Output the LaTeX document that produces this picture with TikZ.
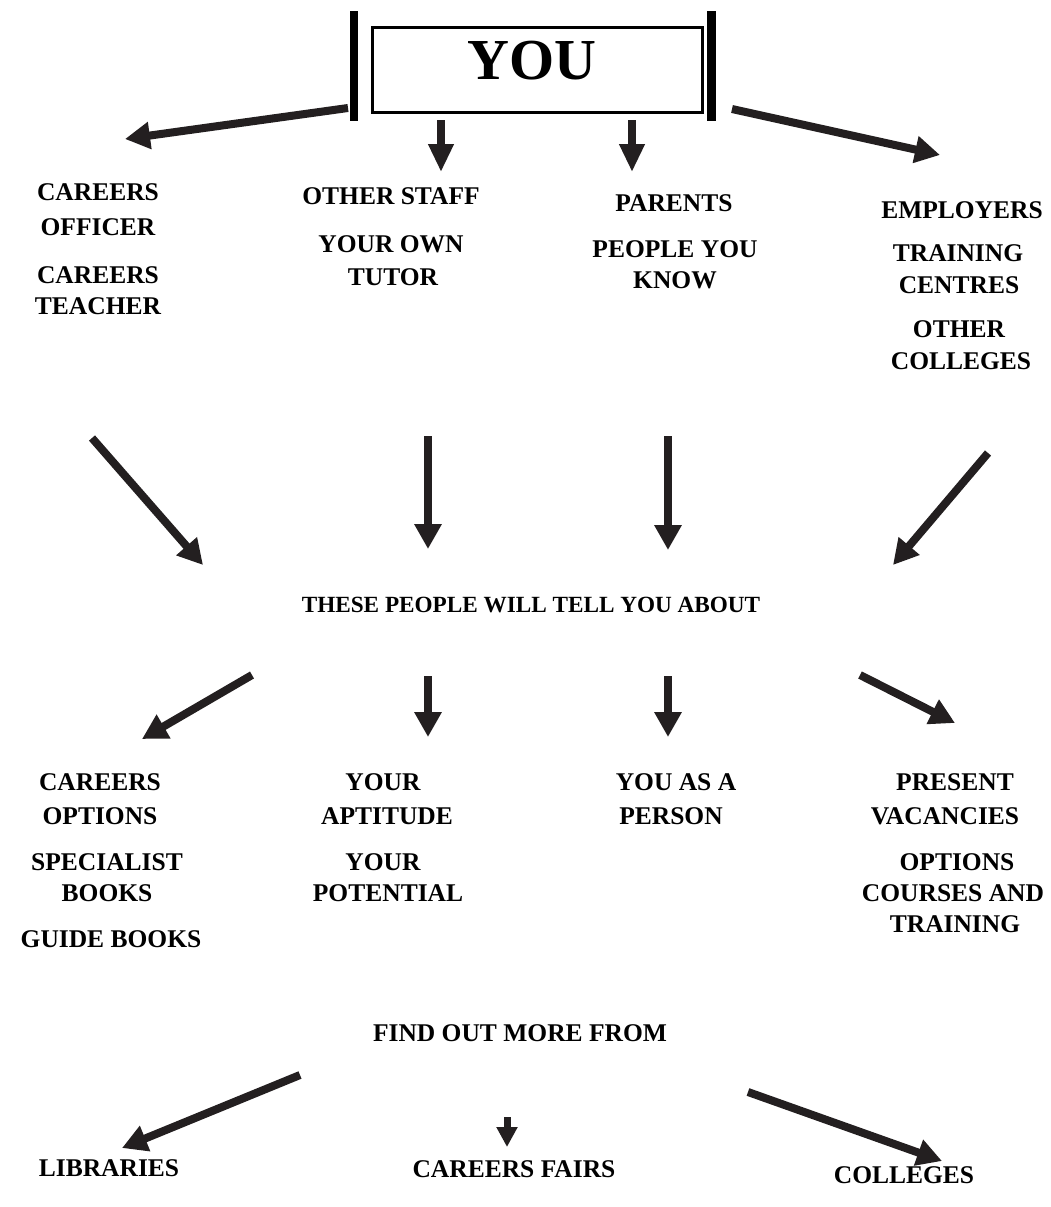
\documentclass[tikz,border=0pt]{standalone}
\usepackage{fontspec}
\setmainfont{Liberation Serif}
\usetikzlibrary{arrows.meta}
\definecolor{ink}{RGB}{35,31,32}
\begin{document}
\begin{tikzpicture}[x=1pt,y=-1pt,
  lbl/.style={anchor=base,inner sep=0pt,font=\fontsize{25.5}{28}\selectfont\bfseries},
  bigarrow/.style={draw=ink,line width=8pt,-{Triangle[width=26pt,length=25pt]}},
  smallarrow/.style={draw=ink,line width=8pt,-{Triangle[width=24pt,length=28pt]}},
  bar/.style={fill=black,draw=none}]
\useasboundingbox (0,0) rectangle (1050,1207);
% top box
\node[draw=black,line width=3pt,minimum width=330pt,minimum height=84pt,inner sep=0pt] (you) at (537,70) {};
\node[anchor=base,inner sep=0pt,font=\fontsize{58}{60}\selectfont\bfseries] (youtxt) at (532,79) {YOU};
\fill[bar] (350,11) rectangle (358,121);
\fill[bar] (707,11) rectangle (716,121);
% coordinates for arrows
\coordinate (a1s) at (348,108); \coordinate (a1e) at (125,139);
\coordinate (a2s) at (441,120); \coordinate (a2e) at (441,172);
\coordinate (a3s) at (632,120); \coordinate (a3e) at (632,172);
\coordinate (a4s) at (732,109); \coordinate (a4e) at (940,155);
\draw[bigarrow] (a1s) -- (a1e);
\draw[smallarrow] (a2s) -- (a2e);
\draw[smallarrow] (a3s) -- (a3e);
\draw[bigarrow] (a4s) -- (a4e);
% top labels
\node[lbl] (t1a) at (98,200) {CAREERS};
\node[lbl] (t1b) at (98,235) {OFFICER};
\node[lbl] (t1c) at (98,283) {CAREERS};
\node[lbl] (t1d) at (98,314) {TEACHER};
\node[lbl] (t2a) at (391,204) {OTHER STAFF};
\node[lbl] (t2b) at (391,252) {YOUR OWN};
\node[lbl] (t2c) at (393,285) {TUTOR};
\node[lbl] (t3a) at (674,211) {PARENTS};
\node[lbl] (t3b) at (675,257) {PEOPLE YOU};
\node[lbl] (t3c) at (675,288) {KNOW};
\node[lbl] (t4a) at (962,218) {EMPLOYERS};
\node[lbl] (t4b) at (958,261) {TRAINING};
\node[lbl] (t4c) at (959,293) {CENTRES};
\node[lbl] (t4d) at (959,337) {OTHER};
\node[lbl] (t4e) at (961,369) {COLLEGES};
% middle arrows
\coordinate (m1s) at (92,438); \coordinate (m1e) at (203,565);
\coordinate (m2s) at (428,436); \coordinate (m2e) at (428,549);
\coordinate (m3s) at (668,436); \coordinate (m3e) at (668,550);
\coordinate (m4s) at (988,453); \coordinate (m4e) at (893,565);
\draw[bigarrow] (m1s) -- (m1e);
\draw[bigarrow] (m2s) -- (m2e);
\draw[bigarrow] (m3s) -- (m3e);
\draw[bigarrow] (m4s) -- (m4e);
\node[lbl,font=\fontsize{23.2}{28}\selectfont\bfseries] (mid) at (531,612) {THESE PEOPLE WILL TELL YOU ABOUT};
% lower arrows
\coordinate (l1s) at (252,675); \coordinate (l1e) at (142,739);
\coordinate (l2s) at (428,676); \coordinate (l2e) at (428,737);
\coordinate (l3s) at (668,676); \coordinate (l3e) at (668,737);
\coordinate (l4s) at (860,675); \coordinate (l4e) at (955,723);
\draw[bigarrow] (l1s) -- (l1e);
\draw[bigarrow] (l2s) -- (l2e);
\draw[bigarrow] (l3s) -- (l3e);
\draw[bigarrow] (l4s) -- (l4e);
% lower labels
\node[lbl] (b1a) at (100,790) {CAREERS};
\node[lbl] (b1b) at (100,824) {OPTIONS};
\node[lbl] (b1c) at (107,870) {SPECIALIST};
\node[lbl] (b1d) at (107,901) {BOOKS};
\node[lbl] (b1e) at (111,947) {GUIDE BOOKS};
\node[lbl] (b2a) at (383,790) {YOUR};
\node[lbl] (b2b) at (387,824) {APTITUDE};
\node[lbl] (b2c) at (383,870) {YOUR};
\node[lbl] (b2d) at (388,901) {POTENTIAL};
\node[lbl] (b3a) at (676,790) {YOU AS A};
\node[lbl] (b3b) at (671,824) {PERSON};
\node[lbl] (b4a) at (955,790) {PRESENT};
\node[lbl] (b4b) at (945,824) {VACANCIES};
\node[lbl] (b4c) at (957,870) {OPTIONS};
\node[lbl] (b4d) at (953,901) {COURSES AND};
\node[lbl] (b4e) at (955,932) {TRAINING};
% bottom
\node[lbl] (find) at (520,1041) {FIND OUT MORE FROM};
\coordinate (f1s) at (300,1075); \coordinate (f1e) at (122,1148);
\coordinate (f2s) at (507,1117); \coordinate (f2e) at (507,1147);
\coordinate (f3s) at (748,1092); \coordinate (f3e) at (942,1161);
\draw[bigarrow] (f1s) -- (f1e);
\draw[draw=ink,line width=7pt,-{Triangle[width=20pt,length=20pt]}] (f2s) -- (f2e);
\draw[bigarrow] (f3s) -- (f3e);
\node[lbl] (lib) at (109,1176) {LIBRARIES};
\node[lbl] (fairs) at (514,1177) {CAREERS FAIRS};
\node[lbl] (coll) at (904,1183) {COLLEGES};
\end{tikzpicture}
\end{document}
